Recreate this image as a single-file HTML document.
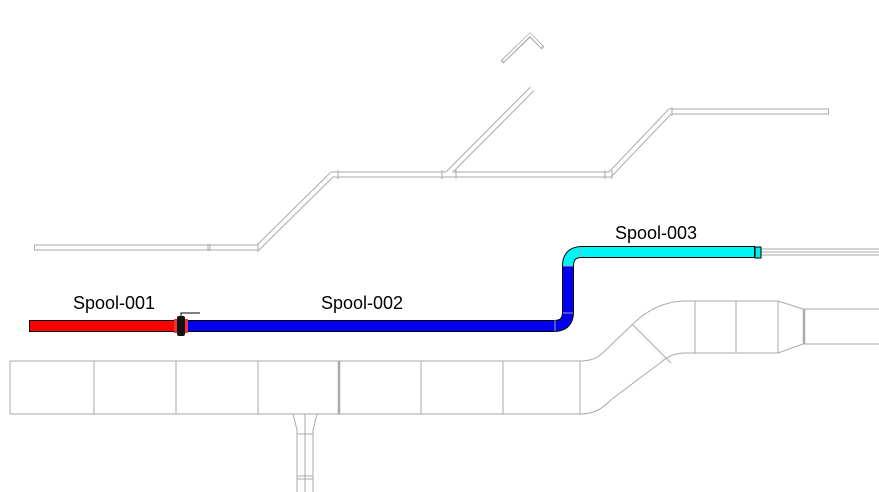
<!DOCTYPE html>
<html><head><style>body{margin:0;background:#fff}svg{display:block}</style></head><body>
<svg width="879" height="492" xmlns="http://www.w3.org/2000/svg">
<g fill="none" stroke="#aaa" stroke-width="1">
<g stroke-width="6" stroke="#aaa"><path d="M34,247.5 H258 L332,174.5 H610 L670,111.5 H829"/><path d="M447,174.5 L532,89"/><path d="M502,62 L530,35 L543,48" stroke-width="4"/></g>
<g stroke-width="4" stroke="#fff"><path d="M35,247.5 H258 L332,174.5 H610 L670,111.5 H828"/><path d="M447,174.5 L532,89"/><path d="M503,61 L530,34.5 L542,47" stroke-width="2"/></g>
<path d="M208,244 v7 M210,244 v7 M258,243 v9 M338,170 v9 M442,170 v9 M456,170 v9 M605,170 v9 M612,170 v9 M672,107 v9"/>
<path d="M760,249 H879 M760,252 H879 M760,255 H879"/>
<path d="M10,361 H580 C596,361 600,356 612,344 L635,322 C650,308 668,301 685,301 H778 L803,309 H879"/>
<path d="M10,414 H580 C592,414 600,411 612,399 L660,363 C668,356 675,353 685,353 H778 L803,344 H879"/>
<path d="M10,361 V414 M94,361V414 M176,361V414 M258,361V414 M421,361V414 M503,361V414 M580,361V414 M633,325 L671,363 M695,301V353 M736,301V353 M778,301V353"/>
<path d="M339,361V414 M804,309V344" stroke-width="2.5"/>
<path d="M293,414 L297,430 V492 M317,414 L313,430 V492 M305,414 V492 M297,434 H313 M297,476 H313 M297,479 H313"/>
</g>
<g fill="none" stroke-linejoin="round">
<path d="M29,326 H176" stroke="#000" stroke-width="12"/>
<path d="M30,326 H176" stroke="#f00" stroke-width="10"/>
<path d="M186,326 H554 Q568,326 568,312 V266 Q568,252 582,252 H755" stroke="#000" stroke-width="12"/>
<path d="M186,326 H554 Q568,326 568,312 V266" stroke="#0000ee" stroke-width="10"/>
<path d="M568,266 Q568,252 582,252 H754" stroke="#00f5f5" stroke-width="10"/>
<path d="M555,320 V331 M563,313 H573 M563,266 H573 M581,247 V257" stroke="#9ab" stroke-width="1"/>
<rect x="755" y="247" width="6" height="11" fill="#0ee" stroke="#000" stroke-width="1"/>
</g>
<rect x="174" y="319" width="14" height="14" fill="#e33" stroke="none"/>
<rect x="177" y="316" width="8" height="20" rx="2" fill="#111"/>
<path d="M181,316 V313 H200" stroke="#000" fill="none"/>
<g font-family="Liberation Sans, sans-serif" font-size="18" fill="#000">
<text x="73" y="309">Spool-001</text>
<text x="321" y="309">Spool-002</text>
<text x="615" y="239">Spool-003</text>
</g>
</svg>
</body></html>
